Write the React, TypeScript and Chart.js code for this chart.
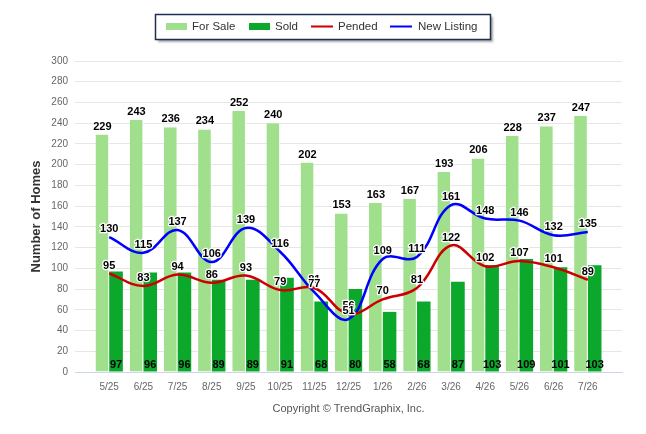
import { useEffect, useRef } from "react"
import { Chart, registerables } from "chart.js"

Chart.register(...registerables)

const months = ["5/25", "6/25", "7/25", "8/25", "9/25", "10/25", "11/25", "12/25", "1/26", "2/26", "3/26", "4/26", "5/26", "6/26", "7/26"]
const forSale = [229, 243, 236, 234, 252, 240, 202, 153, 163, 167, 193, 206, 228, 237, 247]
const sold = [97, 96, 96, 89, 89, 91, 68, 80, 58, 68, 87, 103, 109, 101, 103]
const pended = [95, 83, 94, 86, 93, 79, 81, 56, 70, 81, 122, 102, 107, 101, 89]
const newListing = [130, 115, 137, 106, 139, 116, 77, 51, 109, 111, 161, 148, 146, 132, 135]

const yMin = 0
const yMax = 300
const yStep = 20

const FONT = "'Liberation Sans', Arial, sans-serif"
const FOR_SALE_COLOR = "#a0df8b"
const SOLD_COLOR = "#0ca82c"
const PENDED_COLOR = "#cc0000"
const NEW_LISTING_COLOR = "#0000ff"

// blank slot on each side of the months, as in the reference
const padEnds = (arr: (number | string)[]) => [null, ...arr, null]

const valueLabels = {
  id: "valueLabels",
  afterDatasetsDraw(chart: any) {
    const ctx = chart.ctx
    ctx.save()
    ctx.font = `bold 11px ${FONT}`
    ctx.textAlign = "center"
    ctx.textBaseline = "middle"
    ctx.lineJoin = "round"
    chart.data.datasets.forEach((ds: any, i: number) => {
      const meta = chart.getDatasetMeta(i)
      meta.data.forEach((el: any, j: number) => {
        const v = ds.data[j]
        if (v == null) return
        const text = String(v)
        const x = el.x
        if (ds.label === "Sold") {
          ctx.fillStyle = "#000"
          ctx.fillText(text, x, chart.chartArea.bottom - 7)
          return
        }
        const y = el.y - 8
        ctx.strokeStyle = "#fff"
        ctx.lineWidth = 2.5
        ctx.strokeText(text, x, y)
        ctx.fillStyle = "#000"
        ctx.fillText(text, x, y)
      })
    })
    ctx.restore()
  },
}

const boxLegend = {
  id: "boxLegend",
  afterDraw(chart: any) {
    const ctx = chart.ctx
    ctx.save()
    // box with shadow
    ctx.shadowColor = "rgba(0,0,0,0.35)"
    ctx.shadowOffsetX = 2
    ctx.shadowOffsetY = 2
    ctx.shadowBlur = 2
    ctx.fillStyle = "#fff"
    ctx.fillRect(155.5, 14.5, 335, 25)
    ctx.shadowColor = "transparent"
    ctx.strokeStyle = "#1d2f50"
    ctx.lineWidth = 1.5
    ctx.strokeRect(155.5, 14.5, 335, 25)

    const items = [
      { label: "For Sale", color: FOR_SALE_COLOR, kind: "box", x: 166, tx: 192 },
      { label: "Sold", color: SOLD_COLOR, kind: "box", x: 249, tx: 275 },
      { label: "Pended", color: PENDED_COLOR, kind: "line", x: 311, tx: 338 },
      { label: "New Listing", color: NEW_LISTING_COLOR, kind: "line", x: 390, tx: 418 },
    ]
    ctx.font = `11.5px ${FONT}`
    ctx.textBaseline = "middle"
    ctx.textAlign = "left"
    items.forEach((it) => {
      if (it.kind === "box") {
        ctx.fillStyle = it.color
        ctx.fillRect(it.x, 23, 21, 7)
      } else {
        ctx.fillStyle = it.color
        ctx.fillRect(it.x, 25.5, 22, 2)
      }
      ctx.fillStyle = "#333"
      ctx.fillText(it.label, it.tx, 27)
    })

    // credit line under the axis
    ctx.font = `11px ${FONT}`
    ctx.textAlign = "center"
    ctx.fillStyle = "#555"
    const { left, right } = chart.chartArea
    ctx.fillText("Copyright \u00a9 TrendGraphix, Inc.", (left + right) / 2, 409)
    ctx.restore()
  },
}

export default function App() {
  const chartRef = useRef<HTMLCanvasElement>(null)
  const chartInstance = useRef<Chart | null>(null)

  useEffect(() => {
    if (!chartRef.current) return
    if (chartInstance.current) chartInstance.current.destroy()
    const ctx = chartRef.current.getContext("2d")
    if (!ctx) return

    chartInstance.current = new Chart(ctx, {
      type: "bar",
      data: {
        labels: padEnds(months) as any,
        datasets: [
          {
            type: "line",
            label: "Pended",
            data: padEnds(pended) as any,
            borderColor: PENDED_COLOR,
            borderWidth: 2.5,
            tension: 0.4,
            pointRadius: 0,
            fill: false,
            order: 0,
          },
          {
            type: "line",
            label: "New Listing",
            data: padEnds(newListing) as any,
            borderColor: NEW_LISTING_COLOR,
            borderWidth: 2.5,
            tension: 0.4,
            pointRadius: 0,
            fill: false,
            order: 0,
          },
          {
            label: "For Sale",
            data: padEnds(forSale) as any,
            backgroundColor: FOR_SALE_COLOR,
            borderColor: "#fff",
            borderWidth: { top: 0, bottom: 0, left: 0, right: 1 },
            categoryPercentage: 0.8,
            barPercentage: 1.0,
            order: 1,
          },
          {
            label: "Sold",
            data: padEnds(sold) as any,
            backgroundColor: SOLD_COLOR,
            categoryPercentage: 0.8,
            barPercentage: 1.0,
            order: 1,
          },
        ],
      },
      options: {
        responsive: true,
        maintainAspectRatio: false,
        animation: false,
        layout: {
          padding: { top: 61, right: 24, bottom: 0, left: 0 },
        },
        plugins: {
          legend: { display: false },
          tooltip: { enabled: false },
        },
        scales: {
          x: {
            offset: false,
            grid: { display: false },
            border: { display: true, color: "#ccd6eb" },
            ticks: {
              autoSkip: false,
              maxRotation: 0,
              padding: 1,
              color: "#666",
              font: { family: FONT, size: 10 },
            },
            afterFit: (scale: any) => {
              scale.height = 62
            },
          },
          y: {
            min: yMin,
            max: yMax,
            grid: { color: "#e6e6e6", drawTicks: false },
            border: { display: false },
            ticks: {
              stepSize: yStep,
              padding: 7,
              color: "#666",
              font: { family: FONT, size: 10 },
            },
            title: {
              display: true,
              text: "Number of Homes",
              color: "#333",
              font: { family: FONT, size: 13, weight: "bold" },
              padding: { top: 29, bottom: 0 },
            },
            afterFit: (scale: any) => {
              scale.width = 75
            },
          },
        },
      },
      plugins: [valueLabels, boxLegend],
    } as any)

    return () => {
      if (chartInstance.current) {
        chartInstance.current.destroy()
        chartInstance.current = null
      }
    }
  }, [])

  return (
    <div style={{ position: "absolute", left: 0, top: 0, width: 646, height: 434 }}>
      <canvas ref={chartRef} />
    </div>
  )
}
